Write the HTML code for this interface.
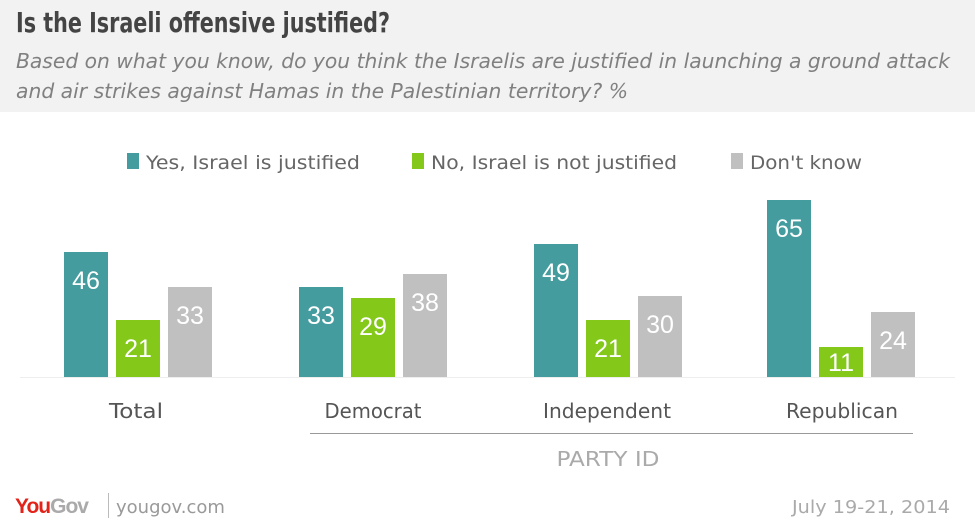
<!DOCTYPE html>
<html><head><meta charset="utf-8"><style>
html,body{margin:0;padding:0;background:#fff;}
svg{display:block;font-family:"DejaVu Sans","Liberation Sans",sans-serif;}
</style></head><body>
<svg width="975" height="526" viewBox="0 0 975 526" xmlns="http://www.w3.org/2000/svg">
<rect x="0" y="0" width="975" height="112" fill="#f2f2f2"/>
<text x="16" y="32" font-size="28" font-weight="bold" fill="#444" textLength="374" lengthAdjust="spacingAndGlyphs">Is the Israeli offensive justified?</text>
<text x="16" y="68" font-size="20" font-style="italic" fill="#808080" textLength="934" lengthAdjust="spacingAndGlyphs">Based on what you know, do you think the Israelis are justified in launching a ground attack</text>
<text x="16" y="98" font-size="20" font-style="italic" fill="#808080" textLength="612" lengthAdjust="spacingAndGlyphs">and air strikes against Hamas in the Palestinian territory? %</text>

<g font-size="19" fill="#666">
<rect x="127" y="153" width="12" height="16" fill="#459c9f"/>
<text x="146" y="169" textLength="214" lengthAdjust="spacingAndGlyphs">Yes, Israel is justified</text>
<rect x="412" y="153" width="12" height="16" fill="#84c81a"/>
<text x="431" y="169" textLength="246" lengthAdjust="spacingAndGlyphs">No, Israel is not justified</text>
<rect x="731" y="153" width="12" height="16" fill="#c0c0c0"/>
<text x="750" y="169" textLength="112" lengthAdjust="spacingAndGlyphs">Don't know</text>
</g>

<line x1="20" y1="377.5" x2="955" y2="377.5" stroke="#eee" stroke-width="1"/>
<g>
<rect x="64" y="252" width="44" height="125" fill="#459c9f"/>
<rect x="116" y="320" width="44" height="57" fill="#84c81a"/>
<rect x="168" y="287" width="44" height="90" fill="#c0c0c0"/>
<rect x="299" y="287" width="44" height="90" fill="#459c9f"/>
<rect x="351" y="298" width="44" height="79" fill="#84c81a"/>
<rect x="403" y="274" width="44" height="103" fill="#c0c0c0"/>
<rect x="534" y="244" width="44" height="133" fill="#459c9f"/>
<rect x="586" y="320" width="44" height="57" fill="#84c81a"/>
<rect x="638" y="296" width="44" height="81" fill="#c0c0c0"/>
<rect x="767" y="200" width="44" height="177" fill="#459c9f"/>
<rect x="819" y="347" width="44" height="30" fill="#84c81a"/>
<rect x="871" y="312" width="44" height="65" fill="#c0c0c0"/>
</g>
<g font-family="Liberation Sans, sans-serif" font-size="25" fill="#fff" text-anchor="middle">
<text x="86" y="289">46</text>
<text x="138" y="357">21</text>
<text x="190" y="324">33</text>
<text x="321" y="324">33</text>
<text x="373" y="335">29</text>
<text x="425" y="311">38</text>
<text x="556" y="281">49</text>
<text x="608" y="357">21</text>
<text x="660" y="333">30</text>
<text x="789" y="237">65</text>
<text x="841" y="371">11</text>
<text x="893" y="349">24</text>
</g>
<g font-size="20" fill="#555" text-anchor="middle">
<text x="136" y="418" textLength="54" lengthAdjust="spacingAndGlyphs">Total</text>
<text x="373" y="418" textLength="97" lengthAdjust="spacingAndGlyphs">Democrat</text>
<text x="607" y="418" textLength="128" lengthAdjust="spacingAndGlyphs">Independent</text>
<text x="842" y="418" textLength="112" lengthAdjust="spacingAndGlyphs">Republican</text>
</g>
<line x1="310" y1="433.5" x2="913" y2="433.5" stroke="#999" stroke-width="1"/>
<text x="608" y="466" font-size="20" fill="#aaa" text-anchor="middle" textLength="103" lengthAdjust="spacingAndGlyphs">PARTY ID</text>

<text x="15" y="513" font-family="Liberation Sans, sans-serif" font-size="21" font-weight="bold" letter-spacing="-1" fill="#e2231a">You<tspan fill="#aaa">Gov</tspan></text>
<line x1="108.5" y1="493" x2="108.5" y2="518" stroke="#bbb" stroke-width="1"/>
<text x="116" y="513" font-size="18" fill="#999">yougov.com</text>
<text x="950" y="513" font-size="18" fill="#aaa" text-anchor="end" textLength="158" lengthAdjust="spacingAndGlyphs">July 19-21, 2014</text>
</svg>
</body></html>
